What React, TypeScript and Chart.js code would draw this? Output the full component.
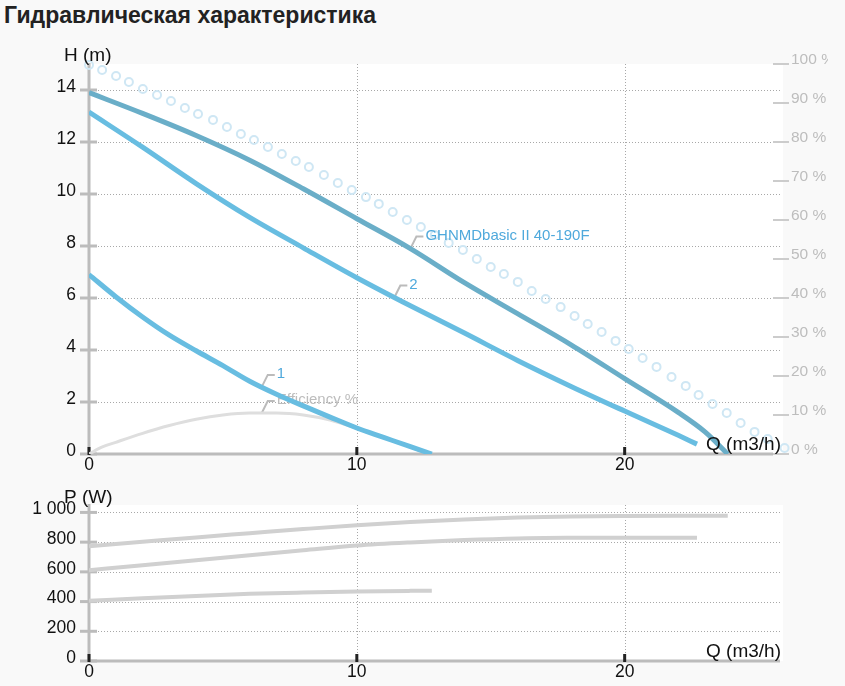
import React, { useEffect, useRef } from 'react';
import { Chart, registerables } from 'chart.js';

Chart.register(...registerables);

const FONT = '"Liberation Sans", Arial, Helvetica, sans-serif';
const TITLE = 'Гидравлическая характеристика';

// ---------- Head curves H (m) vs Q (m3/h) ----------
const qMain = [0, 2, 4, 6, 8, 10, 12, 14, 16, 18, 20, 22, 23, 23.85];
const hMain = [13.9, 13.1, 12.25, 11.3, 10.2, 9.05, 7.9, 6.6, 5.4, 4.2, 2.9, 1.6, 0.85, 0];

const q2 = [0, 2, 4, 6, 8, 10, 12, 14, 16, 18, 20, 22, 22.7];
const h2 = [13.15, 11.8, 10.4, 9.1, 7.93, 6.78, 5.7, 4.66, 3.6, 2.6, 1.65, 0.72, 0.38];

const q1 = [0, 1, 2, 3, 4, 5, 6, 7, 8, 9, 10, 11, 12, 12.8];
const h1 = [6.9, 6.05, 5.27, 4.57, 3.97, 3.4, 2.8, 2.3, 1.85, 1.42, 1.0, 0.64, 0.28, 0];

// Efficiency %
const qEff = [0, 0.5, 1, 2, 3, 4, 5, 6, 7, 8, 9, 10, 11, 12, 12.7];
const effPct = [0, 1.8, 3.0, 5.3, 7.3, 8.9, 10.0, 10.5, 10.5, 10.0, 8.7, 6.6, 4.2, 1.8, 0];

// Envelope (hollow circles)
const qEnv = [0, 0.49, 1.01, 1.49, 2.01, 2.54, 3.06, 3.58, 4.07, 4.63, 5.15, 5.67, 6.16, 6.68, 7.2, 7.72, 8.21, 8.77, 9.29, 9.81, 10.34, 10.82, 11.34, 11.87, 12.39, 12.91, 13.43, 13.96, 14.48, 15, 15.49, 16.01, 16.53, 17.05, 17.61, 18.13, 18.62, 19.14, 19.66, 20.15, 20.67, 21.19, 21.75, 22.28, 22.76, 23.28, 23.81, 24.33, 24.85, 25.34, 25.97];
const hEnv = [14.96, 14.77, 14.54, 14.31, 14.04, 13.81, 13.58, 13.31, 13.08, 12.85, 12.58, 12.31, 12.08, 11.81, 11.54, 11.27, 11.04, 10.73, 10.42, 10.15, 9.88, 9.62, 9.31, 9.0, 8.73, 8.42, 8.12, 7.85, 7.5, 7.19, 6.92, 6.62, 6.27, 5.96, 5.65, 5.31, 5.0, 4.69, 4.35, 4.04, 3.69, 3.35, 2.96, 2.62, 2.27, 1.92, 1.58, 1.19, 0.85, 0.58, 0.23];

// ---------- Power P (W) vs Q ----------
const qPMain = [0, 2, 4, 6, 8, 10, 12, 14, 16, 18, 20, 22, 23.85];
const pMain = [772, 802, 832, 860, 888, 914, 935, 953, 966, 973, 976, 977, 977];
const qP2 = [0, 2, 4, 6, 8, 10, 12, 14, 16, 18, 20, 22.7];
const p2 = [611, 645, 678, 712, 745, 777, 798, 814, 825, 829, 830, 830];
const qP1 = [0, 2, 4, 6, 8, 10, 12, 12.8];
const p1 = [405, 422, 438, 452, 461, 468, 472, 473];

// ---------- Axes ----------
const qMin = 0;
const qMax = 25.8;
const qTicks = [0, 10, 20];
const hMax = 15;
const hTicks = [0, 2, 4, 6, 8, 10, 12, 14];
const pctTicks = [0, 10, 20, 30, 40, 50, 60, 70, 80, 90, 100];
const pMax = 1050;
const pTicks = [0, 200, 400, 600, 800, 1000];
const pTickLabels = ['0', '200', '400', '600', '800', '1 000'];

// ---------- Callouts ----------
const calloutText = ['GHNMDbasic II 40-190F', '2', '1', 'Efficiency %'];
const calloutQ = [12, 11.4, 6.45, 6.45];
const calloutV = [7.9, 6.02, 2.58, 10.5];
const calloutAxis = ['y', 'y', 'y', 'y2'];
const calloutColor = ['#4fa9dc', '#4fa9dc', '#4fa9dc', '#bdbdbd'];

const COL_MAIN = '#6aaec8';
const COL_LIGHT = '#68bde1';
const COL_EFF = '#dedede';
const COL_ENV = '#cfe7f4';
const COL_P = '#d0d0d0';
const COL_AXIS = '#bcbcbc';
const COL_GRID = '#a8a8a8';

const pts = (xs: number[], ys: number[]) => xs.map((x, i) => ({ x, y: ys[i] }));

type DecorCfg = {
  yTitle: string;
  yTitleX: number;
  yTitleY: number;
  xTitleY: number;
  rightTicks: boolean;
  xAxisInset: number;
  callouts: boolean;
  calloutsAfter: number;
};

function makeDecor(cfg: DecorCfg) {
  return {
    id: 'decor',
    beforeDraw(chart: any) {
      const { ctx, chartArea: a } = chart;
      ctx.save();
      ctx.fillStyle = '#ffffff';
      ctx.fillRect(a.left, a.top, a.right - a.left + 3, a.bottom - a.top);
      ctx.restore();
    },
    beforeDatasetsDraw(chart: any) {
      const { ctx, chartArea: a, scales } = chart;
      const xs = scales.x;
      const ys = scales.y;
      ctx.save();
      // dotted grid
      ctx.strokeStyle = COL_GRID;
      ctx.lineWidth = 1;
      ctx.setLineDash([1, 2]);
      ys.ticks.forEach((t: any) => {
        if (t.value === 0) return;
        const y = Math.round(ys.getPixelForValue(t.value)) + 0.5;
        ctx.beginPath();
        ctx.moveTo(a.left, y);
        ctx.lineTo(a.right, y);
        ctx.stroke();
      });
      xs.ticks.forEach((t: any) => {
        if (t.value === 0) return;
        const x = Math.round(xs.getPixelForValue(t.value)) + 0.5;
        ctx.beginPath();
        ctx.moveTo(x, a.top);
        ctx.lineTo(x, a.bottom);
        ctx.stroke();
      });
      ctx.setLineDash([]);
      // axis lines
      ctx.strokeStyle = COL_AXIS;
      ctx.lineWidth = 3;
      ctx.beginPath();
      ctx.moveTo(a.left, a.top - 1);
      ctx.lineTo(a.left, a.bottom + 1);
      ctx.stroke();
      ctx.beginPath();
      ctx.moveTo(a.left, a.bottom);
      ctx.lineTo(a.right - cfg.xAxisInset, a.bottom);
      ctx.stroke();
      // left ticks
      ys.ticks.forEach((t: any) => {
        const y = ys.getPixelForValue(t.value);
        ctx.beginPath();
        ctx.moveTo(a.left - 9, y);
        ctx.lineTo(a.left + 8, y);
        ctx.stroke();
      });
      // right ticks
      if (cfg.rightTicks && scales.y2) {
        const y2 = scales.y2;
        ctx.strokeStyle = '#cccccc';
        ctx.lineWidth = 2;
        y2.ticks.forEach((t: any) => {
          const y = Math.round(y2.getPixelForValue(t.value));
          ctx.beginPath();
          ctx.moveTo(a.right - 7, y);
          ctx.lineTo(a.right + 9, y);
          ctx.stroke();
        });
      }
      // x ticks (black)
      ctx.fillStyle = '#222222';
      xs.ticks.forEach((t: any) => {
        const x = xs.getPixelForValue(t.value);
        ctx.fillRect(x - 1.5, a.bottom - 7, 3, 8);
      });
      ctx.restore();
    },
    afterDatasetDraw(chart: any, args: any) {
      if (!cfg.callouts || args.index !== cfg.calloutsAfter) return;
      const { ctx, scales } = chart;
      ctx.save();
      ctx.font = `15px ${FONT}`;
      ctx.textBaseline = 'middle';
      ctx.textAlign = 'left';
      calloutText.forEach((txt, i) => {
        const x = scales.x.getPixelForValue(calloutQ[i]);
        const y = scales[calloutAxis[i]].getPixelForValue(calloutV[i]);
        ctx.strokeStyle = '#bbbbbb';
        ctx.lineWidth = 2;
        ctx.beginPath();
        ctx.moveTo(x, y);
        ctx.lineTo(x + 6, y - 12);
        ctx.lineTo(x + 13, y - 12);
        ctx.stroke();
        ctx.fillStyle = calloutColor[i];
        ctx.fillText(txt, x + 15, y - 13);
      });
      ctx.restore();
    },
    afterDraw(chart: any) {
      const { ctx, chartArea: a } = chart;
      ctx.save();
      ctx.font = `19px ${FONT}`;
      ctx.fillStyle = '#111111';
      ctx.textBaseline = 'alphabetic';
      ctx.textAlign = 'left';
      ctx.fillText(cfg.yTitle, cfg.yTitleX, cfg.yTitleY);
      ctx.textAlign = 'right';
      ctx.fillText('Q (m3/h)', a.right + 1, cfg.xTitleY);
      ctx.restore();
    },
  };
}

const tickFont = { family: FONT, size: 17.5 };

function xScale(height: number) {
  return {
    type: 'linear' as const,
    position: 'bottom' as const,
    min: qMin,
    max: qMax,
    grid: { display: false, drawTicks: false },
    border: { display: false },
    afterBuildTicks: (s: any) => {
      s.ticks = qTicks.map((v) => ({ value: v }));
    },
    afterFit: (s: any) => {
      s.height = height;
    },
    ticks: {
      font: tickFont,
      color: '#111111',
      padding: 1,
      maxRotation: 0,
      autoSkip: false,
      callback: (v: any) => String(v),
    },
  };
}

export default function App() {
  const topRef = useRef<HTMLCanvasElement>(null);
  const botRef = useRef<HTMLCanvasElement>(null);

  useEffect(() => {
    const lineDs = (label: string, data: any[], color: string, width: number, yAxisID = 'y') => ({
      label,
      data,
      yAxisID,
      borderColor: color,
      backgroundColor: color,
      borderWidth: width,
      pointRadius: 0,
      fill: false,
      tension: 0.35,
      cubicInterpolationMode: 'monotone' as const,
    });

    const top = new Chart(topRef.current!, {
      type: 'line',
      data: {
        datasets: [
          lineDs('GHNMDbasic II 40-190F', pts(qMain, hMain), COL_MAIN, 5),
          lineDs('2', pts(q2, h2), COL_LIGHT, 5),
          lineDs('1', pts(q1, h1), COL_LIGHT, 5),
          lineDs('Efficiency %', pts(qEff, effPct), COL_EFF, 3, 'y2'),
          {
            label: 'envelope',
            data: pts(qEnv, hEnv),
            yAxisID: 'y',
            showLine: false,
            pointRadius: 4,
            pointBorderWidth: 2,
            pointBorderColor: COL_ENV,
            pointBackgroundColor: 'rgba(0,0,0,0)',
            clip: false as any,
          } as any,
        ],
      },
      options: {
        animation: false,
        responsive: true,
        maintainAspectRatio: false,
        events: [],
        layout: { padding: { top: 64, left: 0, right: 0, bottom: 0 } },
        plugins: { legend: { display: false }, tooltip: { enabled: false } },
        scales: {
          x: xScale(26) as any,
          y: {
            type: 'linear',
            position: 'left',
            min: 0,
            max: hMax,
            grid: { display: false, drawTicks: false },
            border: { display: false },
            afterBuildTicks: (s: any) => {
              s.ticks = hTicks.map((v) => ({ value: v }));
            },
            afterFit: (s: any) => {
              s.width = 89;
            },
            ticks: {
              font: tickFont,
              color: '#111111',
              padding: 13,
              labelOffset: -3,
              callback: (v: any) => String(v),
            },
          } as any,
          y2: {
            type: 'linear',
            position: 'right',
            min: 0,
            max: 100,
            grid: { display: false, drawTicks: false },
            border: { display: false },
            afterBuildTicks: (s: any) => {
              s.ticks = pctTicks.map((v) => ({ value: v }));
            },
            afterFit: (s: any) => {
              s.width = 48;
            },
            ticks: {
              font: { family: FONT, size: 15.5 },
              color: '#bdbdbd',
              padding: 11,
              labelOffset: -4,
              callback: (v: any) => `${v} %`,
            },
          } as any,
        },
      },
      plugins: [
        makeDecor({
          yTitle: 'H (m)',
          yTitleX: 64,
          yTitleY: 61,
          xTitleY: 450,
          rightTicks: true,
          xAxisInset: 7,
          callouts: true,
          calloutsAfter: 4,
        }) as any,
      ],
    });

    const bot = new Chart(botRef.current!, {
      type: 'line',
      data: {
        datasets: [
          lineDs('P GHNMDbasic II 40-190F', pts(qPMain, pMain), COL_P, 4),
          lineDs('P 2', pts(qP2, p2), COL_P, 4),
          lineDs('P 1', pts(qP1, p1), COL_P, 4),
        ],
      },
      options: {
        animation: false,
        responsive: true,
        maintainAspectRatio: false,
        events: [],
        layout: { padding: { top: 25, left: 0, right: 65, bottom: 0 } },
        plugins: { legend: { display: false }, tooltip: { enabled: false } },
        scales: {
          x: xScale(25) as any,
          y: {
            type: 'linear',
            position: 'left',
            min: 0,
            max: pMax,
            grid: { display: false, drawTicks: false },
            border: { display: false },
            afterBuildTicks: (s: any) => {
              s.ticks = pTicks.map((v) => ({ value: v }));
            },
            afterFit: (s: any) => {
              s.width = 89;
            },
            ticks: {
              font: tickFont,
              color: '#111111',
              padding: 13,
              labelOffset: -3,
              callback: (_v: any, i: number) => pTickLabels[i],
            },
          } as any,
        },
      },
      plugins: [
        makeDecor({
          yTitle: 'P (W)',
          yTitleX: 64,
          yTitleY: 23,
          xTitleY: 177,
          rightTicks: false,
          xAxisInset: 0,
          callouts: false,
          calloutsAfter: -1,
        }) as any,
      ],
    });

    return () => {
      top.destroy();
      bot.destroy();
    };
  }, []);

  return (
    <div
      style={{
        position: 'absolute',
        left: 0,
        top: 0,
        width: 845,
        height: 686,
        background: '#f9f9f9',
        overflow: 'hidden',
      }}
    >
      <div
        style={{
          position: 'absolute',
          left: 4,
          top: 2,
          font: `bold 23px ${FONT}`,
          lineHeight: '26px',
          color: '#222222',
          whiteSpace: 'nowrap',
        }}
      >
        {TITLE}
      </div>
      <div style={{ position: 'absolute', left: 0, top: 0, width: 828, height: 480 }}>
        <canvas ref={topRef} />
      </div>
      <div style={{ position: 'absolute', left: 0, top: 480, width: 845, height: 206 }}>
        <canvas ref={botRef} />
      </div>
    </div>
  );
}
